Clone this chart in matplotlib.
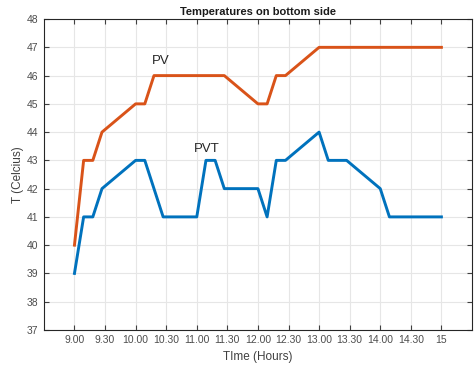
import matplotlib.pyplot as plt

# clock times as decimals (9.15 means 9:15), plotted the way the original did
times = [9.00, 9.15, 9.30, 9.45, 10.00, 10.15, 10.30, 10.45, 11.00, 11.15, 11.30, 11.45,
         12.00, 12.15, 12.30, 12.45, 13.00, 13.15, 13.30, 13.45, 14.00, 14.15, 14.30, 14.45, 15.00]
pv = [40, 43, 43, 44, 45, 45, 46, 46, 46, 46, 46, 46,
      45, 45, 46, 46, 47, 47, 47, 47, 47, 47, 47, 47, 47]
pvt = [39, 41, 41, 42, 43, 43, 42, 41, 41, 43, 43, 42,
       42, 41, 43, 43, 44, 43, 43, 43, 42, 41, 41, 41, 41]

tick_pos = [9, 9.5, 10, 10.5, 11, 11.5, 12, 12.5, 13, 13.5, 14, 14.5, 15]
tick_lbl = ['9.00', '9.30', '10.00', '10.30', '11.00', '11.30', '12.00',
            '12.30', '13.00', '13.30', '14.00', '14.30', '15']

plt.rcParams['font.family'] = ['Liberation Sans', 'DejaVu Sans']

fig = plt.figure(figsize=(4.77, 3.67), dpi=100, facecolor='white')
ax = fig.add_axes([0.092, 0.101, 0.8975, 0.847])

ax.plot(times, pv, color='#D95319', lw=2.1)
ax.plot(times, pvt, color='#0072BD', lw=2.1)

ax.text(10.41, 46.5, 'PV', fontsize=9.5, color='#262626', ha='center', va='center')
ax.text(11.17, 43.4, 'PVT', fontsize=9.5, color='#262626', ha='center', va='center')

ax.set_xlim(8.5, 15.5)
ax.set_ylim(37, 48)
ax.set_xticks(tick_pos)
ax.set_xticklabels(tick_lbl)
ax.set_yticks(range(37, 49))
ax.tick_params(direction='in', length=3.5, width=0.8, top=True, right=True,
               labelsize=7.5, colors='#404040', labelcolor='#4d4d4d', pad=4)
ax.grid(True, color='#e6e6e6', lw=0.8)
ax.set_axisbelow(True)
for s in ax.spines.values():
    s.set_color('#262626')
    s.set_linewidth(0.8)

ax.set_title('Temperatures on bottom side', fontsize=8, fontweight='bold', color='#1a1a1a', pad=3)
ax.set_xlabel('TIme (Hours)', fontsize=8.5, color='#404040', labelpad=4)
ax.set_ylabel('T (Celcius)', fontsize=8.5, color='#404040', labelpad=2)

fig.savefig('out.png', dpi=100)
